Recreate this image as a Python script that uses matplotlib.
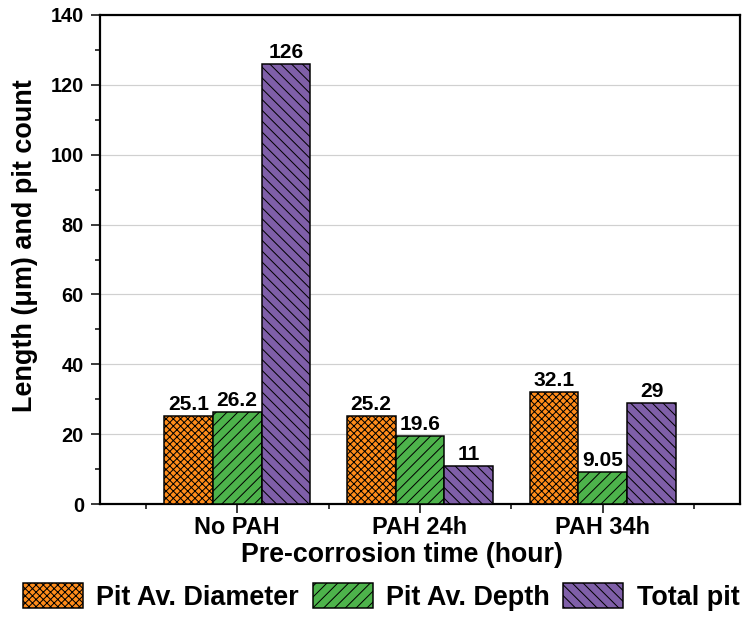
import matplotlib
matplotlib.use("Agg")
import matplotlib.pyplot as plt
from matplotlib.ticker import MultipleLocator, FixedLocator
import numpy as np

categories = ["No PAH", "PAH 24h", "PAH 34h"]
series_names = ["Pit Av. Diameter", "Pit Av. Depth", "Total pit"]
diameter = [25.1, 25.2, 32.1]
depth = [26.2, 19.6, 9.05]
total_pit = [126, 11, 29]
labels_diameter = ["25.1", "25.2", "32.1"]
labels_depth = ["26.2", "19.6", "9.05"]
labels_total = ["126", "11", "29"]

colors = ["#FF8C1A", "#4DB34B", "#7F5FA8"]
hatches = ["xxxxxx", "////", "\\\\\\\\"]

DPI = 130
PX = 72 / DPI  # points per pixel

plt.rcParams['font.family'] = ['Liberation Sans', 'DejaVu Sans']
plt.rcParams['font.weight'] = 'bold'
plt.rcParams['hatch.linewidth'] = 1.0 * PX

W, H = 743, 620
fig = plt.figure(figsize=(W / DPI, H / DPI), dpi=DPI)
ax = fig.add_axes([100 / W, (H - 504) / H, 640 / W, 489 / H])

x = np.arange(1, len(categories) + 1)
w = 0.8 / 3
data = [diameter, depth, total_pit]
texts = [labels_diameter, labels_depth, labels_total]
handles = []
for i, (vals, lab) in enumerate(zip(data, texts)):
    bars = ax.bar(x + (i - 1) * w, vals, width=w, color=colors[i], edgecolor="black",
                  linewidth=1.5 * PX, hatch=hatches[i], label=series_names[i], zorder=3)
    handles.append(bars)
    for b, t in zip(bars, lab):
        ax.annotate(t, (b.get_x() + b.get_width() / 2, b.get_height()),
                    xytext=(0, 2 * PX), textcoords="offset points", ha="center", va="bottom",
                    fontsize=21 * PX, fontweight="bold", zorder=4)

ax.set_xlim(0.25, 3.75)
ax.set_ylim(0, 140)
ax.set_xticks(x)
ax.set_xticklabels(categories)
ax.xaxis.set_minor_locator(FixedLocator([0.5, 1.5, 2.5, 3.5]))
ax.yaxis.set_major_locator(MultipleLocator(20))
ax.yaxis.set_minor_locator(MultipleLocator(10))
ax.tick_params(axis="both", which="major", direction="out", length=9 * PX, width=1.5 * PX)
ax.tick_params(axis="both", which="minor", direction="out", length=5 * PX, width=1.5 * PX)
ax.tick_params(axis="x", which="major", labelsize=23.5 * PX, pad=3 * PX)
ax.tick_params(axis="y", which="major", labelsize=20 * PX, pad=7 * PX)
ax.grid(axis="y", which="major", color="#d0d0d0", linewidth=1.2 * PX, zorder=0)
ax.set_axisbelow(True)
for s in ax.spines.values():
    s.set_linewidth(2.2 * PX)

fig.text(402 / W, 1 - 562 / H, "Pre-corrosion time (hour)", fontsize=26.8 * PX,
         fontweight="bold", ha="center", va="baseline")
fig.text(25 / W, 1 - 246 / H, "Length (\u03bcm) and pit count", fontsize=27 * PX,
         fontweight="bold", ha="center", va="center", rotation=90)

fig.legend(handles=handles, labels=series_names, loc="center left", ncol=3,
           bbox_to_anchor=(23 / W, 23 / H), frameon=False, fontsize=27 * PX,
           handlelength=2.22, handleheight=1.07, handletextpad=0.5, columnspacing=0.5,
           borderaxespad=0, borderpad=0)

fig.savefig("out.png", dpi=DPI)
